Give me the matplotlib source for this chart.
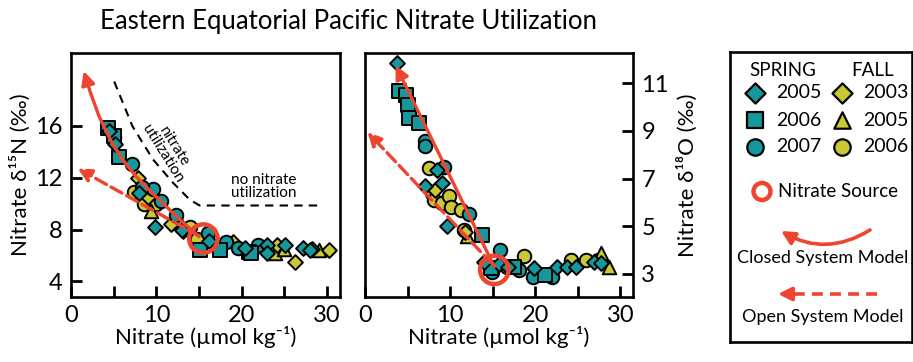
import matplotlib
matplotlib.use("Agg")
import matplotlib.pyplot as plt
from matplotlib.patches import FancyArrowPatch
import numpy as np

plt.rcParams['font.family'] = ['Lato', 'DejaVu Sans']

TEAL = '#14989c'
YELLOW = '#c9c936'
RED = '#ee4530'

# ---------------- Left panel: nitrate d15N ----------------
n15_sp05 = [4.5, 5.2, 9.8, 16.2, 20.4, 22.9, 22.9, 25.1, 27.2, 28.0, 8.0, 13.0]
d15_sp05 = [15.6, 14.6, 8.2, 7.1, 6.6, 6.8, 6.2, 6.8, 6.6, 6.4, 10.8, 8.0]
n15_sp06 = [4.3, 5.0, 5.6, 15.1, 17.4, 20.9, 21.1]
d15_sp06 = [15.8, 15.2, 13.6, 6.4, 6.4, 6.3, 6.2]
n15_sp07 = [5.0, 7.1, 9.6, 12.3, 16.0, 18.2, 19.6, 21.9, 8.3, 10.5]
d15_sp07 = [15.1, 13.05, 11.1, 9.1, 7.7, 7.0, 6.6, 6.8, 11.3, 10.2]
n15_fa03 = [7.8, 11.7, 19.0, 24.1, 26.2, 28.2, 30.2, 9.0, 13.1]
d15_fa03 = [12.0, 8.4, 7.0, 6.8, 5.5, 6.5, 6.4, 10.5, 7.9]
n15_fa05 = [9.4, 23.9, 29.0, 12.8, 25.0]
d15_fa05 = [9.4, 6.2, 6.4, 8.6, 6.5]
n15_fa06 = [7.4, 8.6, 10.0, 13.9, 14.8]
d15_fa06 = [10.9, 10.0, 10.0, 8.2, 7.3]

# ---------------- Right panel: nitrate d18O ----------------
n18_sp05 = [3.8, 7.1, 8.5, 9.1, 9.6, 14.0, 15.7, 19.9, 22.6, 23.8, 24.8, 26.9, 27.7, 16.8]
d18_sp05 = [11.85, 6.67, 7.37, 6.8, 4.99, 3.5, 3.4, 3.24, 3.31, 3.31, 3.31, 3.5, 3.45, 3.3]
n18_sp06 = [4.0, 4.8, 5.0, 5.2, 6.35, 13.7, 14.8, 21.1, 17.5]
d18_sp06 = [10.66, 10.5, 10.1, 9.54, 9.33, 4.64, 3.24, 2.96, 3.3]
n18_sp07 = [7.1, 7.1, 9.3, 12.2, 15.9, 18.1, 19.7, 22.0, 14.9]
d18_sp07 = [8.56, 8.35, 7.5, 5.5, 4.0, 3.17, 2.89, 2.89, 3.1]
n18_fa03 = [8.2, 11.8]
d18_fa03 = [6.5, 4.75]
n18_fa05 = [12.0, 27.7, 28.7]
d18_fa05 = [4.57, 3.87, 3.31]
n18_fa06 = [7.5, 7.9, 8.1, 9.1, 9.9, 10.1, 11.3, 11.6, 16.7, 18.7, 24.2, 26.0, 27.4]
d18_fa06 = [7.44, 6.4, 6.1, 5.97, 6.25, 5.8, 5.7, 4.85, 3.3, 3.73, 3.59, 3.59, 3.6]

# model curves
closed15_n = [15.1, 13.7, 11.9, 10.0, 7.6, 6.0, 4.7, 3.3, 2.3, 1.5]
closed15_d = [7.4, 8.2, 9.3, 10.5, 12.1, 13.4, 14.8, 16.7, 18.5, 20.2]
open15_n = [15.0, 0.8]
open15_d = [7.5, 12.7]
source15 = (15.5, 7.3)
util_n = [5.06, 7.2, 9.6, 11.95, 13.9, 15.06, 29.0]
util_d = [19.4, 15.95, 13.4, 11.6, 10.3, 9.85, 9.85]

closed18_n = [15.2, 3.6]
closed18_d = [3.3, 11.75]
open18_n = [15.0, 0.3]
open18_d = [3.4, 8.95]
source18 = (15.2, 3.17)

fig = plt.figure(figsize=(9.13, 3.62), dpi=100)
W, H = 913, 362
def ax_rect(x0, x1, y0, y1):
    return [x0 / W, 1 - y1 / H, (x1 - x0) / W, (y1 - y0) / H]

axL = fig.add_axes(ax_rect(71, 340, 53, 297))
axR = fig.add_axes(ax_rect(365, 633, 53, 297))
axG = fig.add_axes(ax_rect(730, 912, 52, 342))

MS = 95
EW = 1.4
def scatter_all(ax, sets):
    for n, d, m, c, s in sets:
        ax.scatter(n, d, marker=m, s=s, facecolor=c, edgecolor='black', linewidth=EW, zorder=3)

scatter_all(axL, [
    (n15_fa06, d15_fa06, 'o', YELLOW, MS),
    (n15_fa05, d15_fa05, '^', YELLOW, MS),
    (n15_fa03, d15_fa03, 'D', YELLOW, MS * 0.6),
    (n15_sp07, d15_sp07, 'o', TEAL, MS),
    (n15_sp06, d15_sp06, 's', TEAL, MS),
    (n15_sp05, d15_sp05, 'D', TEAL, MS * 0.6),
])
scatter_all(axR, [
    (n18_fa06, d18_fa06, 'o', YELLOW, MS),
    (n18_fa05, d18_fa05, '^', YELLOW, MS),
    (n18_fa03, d18_fa03, 'D', YELLOW, MS * 0.6),
    (n18_sp07, d18_sp07, 'o', TEAL, MS),
    (n18_sp06, d18_sp06, 's', TEAL, MS),
    (n18_sp05, d18_sp05, 'D', TEAL, MS * 0.6),
])

def arrow_line(ax, xs, ys, dashed=False):
    ls = (0, (3, 2)) if dashed else '-'
    ax.plot(xs[:-1], ys[:-1], color=RED, lw=2.4, ls=ls, zorder=4, solid_capstyle='butt')
    a = FancyArrowPatch((xs[-2], ys[-2]), (xs[-1], ys[-1]), arrowstyle='-|>', mutation_scale=20,
                        color=RED, lw=2.4, linestyle='--' if dashed else '-', zorder=4,
                        shrinkA=0, shrinkB=0)
    ax.add_patch(a)

# left panel models
axL.plot(util_n, util_d, color='black', lw=1.5, ls=(0, (4, 3)), zorder=2)
arrow_line(axL, closed15_n, closed15_d)
arrow_line(axL, open15_n, open15_d, dashed=True)
axL.scatter([source15[0]], [source15[1]], s=420, facecolor='none', edgecolor=RED, linewidth=3.2, zorder=5)
axL.text(11.4, 14.1, 'nitrate\nutilization', rotation=-58, ha='center', va='center',
         fontsize=11, linespacing=0.85, rotation_mode='anchor')
axL.text(22.6, 11.3, 'no nitrate\nutilization', ha='center', va='center', fontsize=11, linespacing=0.9)

# right panel models
arrow_line(axR, closed18_n, closed18_d)
arrow_line(axR, open18_n, open18_d, dashed=True)
axR.scatter([source18[0]], [source18[1]], s=420, facecolor='none', edgecolor=RED, linewidth=3.2, zorder=5)

for ax in (axL, axR):
    ax.set_xlim(0, 31.5)
    ax.set_xticks([0, 10, 20, 30])
    ax.set_xticks([5, 15, 25], minor=True)
    for sp in ax.spines.values():
        sp.set_linewidth(1.9)
    ax.tick_params(axis='both', which='both', direction='in', length=8, width=2.0, labelsize=17, pad=6)
    ax.set_xlabel('Nitrate (µmol kg⁻¹)', fontsize=16, labelpad=0)

axL.set_ylim(2.8, 21.6)
axL.set_yticks([4, 8, 12, 16])
axL.set_ylabel('Nitrate δ¹⁵N (‰)', fontsize=16, labelpad=3)

axR.set_ylim(2.03, 12.27)
axR.set_yticks([3, 5, 7, 9, 11])
axR.yaxis.tick_right()
axR.yaxis.set_label_position('right')
axR.set_ylabel('Nitrate δ¹⁸O (‰)', fontsize=16, labelpad=6)

fig.text(349 / W, 1 - 22 / H, 'Eastern Equatorial Pacific Nitrate Utilization', ha='center', va='center', fontsize=18.5)

# ---------------- Legend panel ----------------
axG.set_xlim(730, 912)
axG.set_ylim(342, 52)
axG.set_xticks([])
axG.set_yticks([])
for sp in axG.spines.values():
    sp.set_linewidth(1.9)

leg_years_spring = ['2005', '2006', '2007']
leg_years_fall = ['2003', '2005', '2006']
leg_marks_spring = ['D', 's', 'o']
leg_marks_fall = ['D', '^', 'o']
rows_y = [93, 120, 147]
axG.text(783, 70, 'SPRING', ha='center', va='center', fontsize=13.5)
axG.text(873, 70, 'FALL', ha='center', va='center', fontsize=13.5)
for yy, ys, yf, ms_, mf in zip(rows_y, leg_years_spring, leg_years_fall, leg_marks_spring, leg_marks_fall):
    axG.scatter([755], [yy], marker=ms_, s=140 if ms_ != 'D' else 105, facecolor=TEAL, edgecolor='black', linewidth=1.6)
    axG.text(776, yy, ys, ha='left', va='center', fontsize=14)
    axG.scatter([842], [yy], marker=mf, s=140 if mf != 'D' else 105, facecolor=YELLOW, edgecolor='black', linewidth=1.6)
    axG.text(863, yy, yf, ha='left', va='center', fontsize=14)

axG.scatter([762], [191.5], s=150, facecolor='none', edgecolor=RED, linewidth=3.2)
axG.text(778, 191.5, 'Nitrate Source', ha='left', va='center', fontsize=13.5)

arr = FancyArrowPatch((870, 230), (781, 231), connectionstyle='arc3,rad=-0.3', arrowstyle='-|>',
                      mutation_scale=20, color=RED, lw=2.6, shrinkA=0, shrinkB=0)
axG.add_patch(arr)
axG.text(823, 258, 'Closed System Model', ha='center', va='center', fontsize=13)
axG.plot([877, 792], [294, 294], color=RED, lw=2.6, ls=(0, (3, 2)))
arr2 = FancyArrowPatch((795, 294), (778, 294), arrowstyle='-|>', mutation_scale=20, color=RED, lw=2.6,
                       shrinkA=0, shrinkB=0)
axG.add_patch(arr2)
axG.text(823, 317, 'Open System Model', ha='center', va='center', fontsize=13)

fig.savefig('out.png', dpi=100)
